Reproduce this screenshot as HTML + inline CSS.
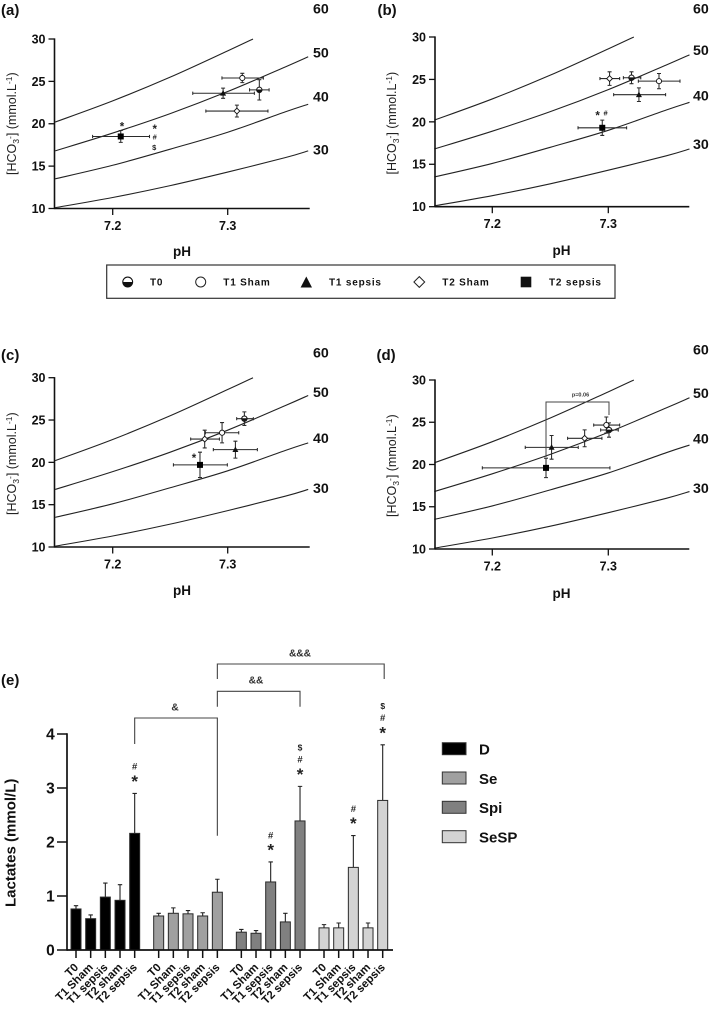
<!DOCTYPE html>
<html lang="en">
<head>
<meta charset="utf-8">
<title>Acid-base and lactate panels</title>
<style>
html,body{margin:0;padding:0;background:#fff;}
#figure{display:block;width:709px;height:1012px;font-family:"Liberation Sans",Arial,sans-serif;fill:#111;filter:blur(0.3px);}
.b{font-weight:bold;}
.panel-label{font-size:15px;font-weight:bold;}
.iso{font-size:14.2px;font-weight:bold;}
.ytitle{font-size:12.5px;fill:#222;}
.ph{font-size:13.5px;font-weight:bold;text-anchor:middle;}
.leg{font-size:10px;font-weight:bold;letter-spacing:.8px;}
.leg2{font-size:15px;font-weight:bold;}
</style>
</head>
<body>
<svg id="figure" xmlns="http://www.w3.org/2000/svg" width="709" height="1012" viewBox="0 0 709 1012">
  <rect x="0" y="0" width="709" height="1012" fill="#fff"/>

  <text class="panel-label" x="1" y="15">(a)</text>
  <text class="panel-label" x="377.5" y="15">(b)</text>
  <text class="panel-label" x="1" y="360">(c)</text>
  <text class="panel-label" x="376.5" y="360">(d)</text>
  <text class="panel-label" x="1" y="685">(e)</text>

  <g>
    <text class="iso" x="313" y="13.5">60</text><text class="iso" x="313" y="57.5">50</text><text class="iso" x="313" y="101.5">40</text><text class="iso" x="313" y="154.5">30</text>
  </g>
  <g>
    <text class="iso" x="693" y="13.5">60</text><text class="iso" x="693" y="55">50</text><text class="iso" x="693" y="100.5">40</text><text class="iso" x="693" y="149">30</text>
  </g>
  <g>
    <text class="iso" x="313" y="357.5">60</text><text class="iso" x="313" y="397">50</text><text class="iso" x="313" y="443">40</text><text class="iso" x="313" y="493">30</text>
  </g>
  <g>
    <text class="iso" x="693" y="354.5">60</text><text class="iso" x="693" y="398">50</text><text class="iso" x="693" y="443.5">40</text><text class="iso" x="693" y="493">30</text>
  </g>

  <text class="ph" x="182" y="256">pH</text>
  <text class="ph" x="561.5" y="255">pH</text>
  <text class="ph" x="182" y="595">pH</text>
  <text class="ph" x="561.5" y="598">pH</text>

  <text class="ytitle" transform="translate(16,175) rotate(-90)">[HCO<tspan font-size="8.5" dy="3">3</tspan><tspan font-size="8.5" dy="-6">-</tspan><tspan dy="3">] (mmol.L</tspan><tspan font-size="8.5" dy="-4">-1</tspan><tspan dy="4">)</tspan></text>
  <text class="ytitle" transform="translate(396,174.5) rotate(-90)">[HCO<tspan font-size="8.5" dy="3">3</tspan><tspan font-size="8.5" dy="-6">-</tspan><tspan dy="3">] (mmol.L</tspan><tspan font-size="8.5" dy="-4">-1</tspan><tspan dy="4">)</tspan></text>
  <text class="ytitle" transform="translate(16,515) rotate(-90)">[HCO<tspan font-size="8.5" dy="3">3</tspan><tspan font-size="8.5" dy="-6">-</tspan><tspan dy="3">] (mmol.L</tspan><tspan font-size="8.5" dy="-4">-1</tspan><tspan dy="4">)</tspan></text>
  <text class="ytitle" transform="translate(396,517) rotate(-90)">[HCO<tspan font-size="8.5" dy="3">3</tspan><tspan font-size="8.5" dy="-6">-</tspan><tspan dy="3">] (mmol.L</tspan><tspan font-size="8.5" dy="-4">-1</tspan><tspan dy="4">)</tspan></text>

  <g>
    <rect x="106.7" y="265" width="508.3" height="33.3" fill="#fff" stroke="#333" stroke-width="1.2"/>
    <g>
      <circle cx="127.7" cy="282" r="4.9" fill="#fff" stroke="#111" stroke-width="1.1"/>
      <path d="M122.8 282 A4.9 4.9 0 0 0 132.6 282 Z" fill="#111"/>
      <text class="leg" x="150" y="285.7">T0</text>
    </g>
    <g>
      <circle cx="200.7" cy="282" r="5" fill="#fff" stroke="#222" stroke-width="1"/>
      <text class="leg" x="223.3" y="285.7">T1 Sham</text>
    </g>
    <g>
      <path d="M306.3 276.5 L312 287.5 L300.6 287.5 Z" fill="#111"/>
      <text class="leg" x="329" y="285.7">T1 sepsis</text>
    </g>
    <g>
      <path d="M419.3 276.6 L424.7 282 L419.3 287.4 L413.9 282 Z" fill="#fff" stroke="#222" stroke-width="1"/>
      <text class="leg" x="442.3" y="285.7">T2 Sham</text>
    </g>
    <g>
      <rect x="520.7" y="276.7" width="10.6" height="10.6" fill="#111"/>
      <text class="leg" x="549" y="285.7">T2 sepsis</text>
    </g>
  </g>

  <text class="b" font-size="15" transform="translate(15.5,907) rotate(-90)">Lactates (mmol/L)</text>

  <g>
    <g>
      <rect x="442.3" y="742.7" width="23.7" height="12" fill="#000" stroke="#333" stroke-width="1"/>
      <text class="leg2" x="479" y="754.5">D</text>
    </g>
    <g>
      <rect x="442.3" y="772" width="23.7" height="12" fill="#a0a0a0" stroke="#333" stroke-width="1"/>
      <text class="leg2" x="479" y="784">Se</text>
    </g>
    <g>
      <rect x="442.3" y="801.3" width="23.7" height="12" fill="#808080" stroke="#333" stroke-width="1"/>
      <text class="leg2" x="479" y="813">Spi</text>
    </g>
    <g>
      <rect x="442.3" y="830.7" width="23.7" height="12" fill="#d3d3d3" stroke="#333" stroke-width="1"/>
      <text class="leg2" x="479" y="842.5">SeSP</text>
    </g>
  </g>
</svg>

<script>
// ---------- Davenport panels: axis values ----------
const pHTicks = [7.2, 7.3];
const hco3Ticks = [10, 15, 20, 25, 30];

// isobars
const isobarPH = [7.15, 7.20, 7.25, 7.30, 7.35, 7.37];
const isobar60PH = [7.15, 7.20, 7.25, 7.30, 7.322];
const isobar60 = [20.2, 22.7, 25.5, 28.6, 30.0];
const isobar50 = [16.8, 18.9, 21.2, 23.8, 26.7, 27.9];
const isobar40 = [13.5, 15.1, 17.0, 19.0, 21.4, 22.3];
const isobar30 = [10.1, 11.3, 12.7, 14.3, 16.0, 16.8];

// order: T0, T1 Sham, T1 sepsis, T2 Sham, T2 sepsis
const panelAPH = [7.3275, 7.3127, 7.296, 7.308, 7.207];
const panelAPHLow = [7.319, 7.295, 7.2696, 7.281, 7.1825];
const panelAPHHigh = [7.336, 7.331, 7.3232, 7.335, 7.232];
const panelAHCO3 = [24.0, 25.4, 23.6, 21.5, 18.5];
const panelAHCO3Err = [1.2, 0.55, 0.6, 0.7, 0.7];

const panelBPH = [7.32, 7.3437, 7.3264, 7.3011, 7.2948];
const panelBPHLow = [7.313, 7.3259, 7.3046, 7.2928, 7.2739];
const panelBPHHigh = [7.328, 7.3618, 7.3494, 7.3098, 7.3158];
const panelBHCO3 = [25.2, 24.8, 23.2, 25.1, 19.3];
const panelBHCO3Err = [0.7, 0.9, 0.8, 0.8, 0.9];

const panelCPH = [7.3145, 7.2951, 7.3067, 7.28, 7.2759];
const panelCPHLow = [7.3078, 7.2806, 7.2875, 7.2678, 7.2528];
const panelCPHHigh = [7.3223, 7.3096, 7.3258, 7.2928, 7.2997];
const panelCHCO3 = [25.16, 23.5, 21.5, 22.75, 19.7];
const panelCHCO3Err = [0.8, 1.2, 1.0, 1.05, 1.5];

const panelDPH = [7.3006, 7.2983, 7.2511, 7.2796, 7.2463];
const panelDPHLow = [7.2934, 7.2874, 7.2284, 7.2649, 7.1914];
const panelDPHHigh = [7.3086, 7.3098, 7.2741, 7.2945, 7.3014];
const panelDHCO3 = [24.08, 24.67, 22.03, 23.1, 19.6];
const panelDHCO3Err = [0.85, 0.95, 1.4, 1.0, 1.15];

// ---------- Lactate bars ----------
const barTickValues = [0, 1, 2, 3, 4];
const timepointLabels = ['T0', 'T1 Sham', 'T1 sepsis', 'T2 sham', 'T2 sepsis'];
const groupNames = ['D', 'Se', 'Spi', 'SeSP'];
const groupD = [0.76, 0.58, 0.98, 0.92, 2.16];
const groupDTop = [0.82, 0.65, 1.24, 1.21, 2.90];
const groupSe = [0.63, 0.68, 0.67, 0.63, 1.07];
const groupSeTop = [0.68, 0.78, 0.73, 0.69, 1.31];
const groupSpi = [0.33, 0.31, 1.26, 0.52, 2.39];
const groupSpiTop = [0.38, 0.36, 1.63, 0.68, 3.03];
const groupSeSP = [0.41, 0.41, 1.53, 0.41, 2.77];
const groupSeSPTop = [0.47, 0.50, 2.12, 0.50, 3.80];
const groupDMarks = ['', '', '', '', '*#'];
const groupSeMarks = ['', '', '', '', ''];
const groupSpiMarks = ['', '', '*#', '', '*#$'];
const groupSeSPMarks = ['', '', '*#', '', '*#$'];

// ---------- Helpers ----------
const NS = 'http://www.w3.org/2000/svg';
const svg = document.getElementById('figure');
const INK = '#111';
const LINE = '#222';

function mk(tag, attrs, parent, txt) {
  const e = document.createElementNS(NS, tag);
  for (const k in attrs) e.setAttribute(k, attrs[k]);
  if (txt !== undefined) e.textContent = txt;
  parent.appendChild(e);
  return e;
}

function symbolText(sym, cx, cy, size, parent) {
  const rise = sym === '*' ? 0.56 : 0.35;
  const t = mk('text', {x: cx, y: cy + rise * size, 'font-size': size, 'font-weight': 'bold', 'text-anchor': 'middle', fill: '#222'}, parent, sym);
  
  
  return t;
}

function smoothPath(pts) {
  let d = 'M' + pts[0][0] + ' ' + pts[0][1];
  for (let i = 0; i < pts.length - 1; i++) {
    const p0 = pts[Math.max(i - 1, 0)], p1 = pts[i], p2 = pts[i + 1], p3 = pts[Math.min(i + 2, pts.length - 1)];
    d += ' C' + (p1[0] + (p2[0] - p0[0]) / 6) + ' ' + (p1[1] + (p2[1] - p0[1]) / 6) + ' ' +
         (p2[0] - (p3[0] - p1[0]) / 6) + ' ' + (p2[1] - (p3[1] - p1[1]) / 6) + ' ' + p2[0] + ' ' + p2[1];
  }
  return d;
}

function drawMarker(kind, x, y, parent) {
  if (kind === 0) {
    const c = mk('circle', {cx: x, cy: y, r: 2.7, fill: '#fff', stroke: INK, 'stroke-width': 1}, parent);
    
    
    const h = mk('path', {d: 'M' + (x - 2.7) + ' ' + (y - 0.4) + ' A2.7 2.7 0 0 0 ' + (x + 2.7) + ' ' + (y - 0.4) + ' Z', fill: INK}, parent);
    
    
  } else if (kind === 1) {
    const c = mk('circle', {cx: x, cy: y, r: 2.6, fill: '#fff', stroke: INK, 'stroke-width': 0.9}, parent);
    
    
  } else if (kind === 2) {
    const t = mk('path', {d: 'M' + x + ' ' + (y - 3.2) + ' L' + (x + 3) + ' ' + (y + 2.4) + ' L' + (x - 3) + ' ' + (y + 2.4) + ' Z', fill: INK}, parent);
    
    
  } else if (kind === 3) {
    const t = mk('path', {d: 'M' + x + ' ' + (y - 2.9) + ' L' + (x + 2.9) + ' ' + y + ' L' + x + ' ' + (y + 2.9) + ' L' + (x - 2.9) + ' ' + y + ' Z', fill: '#fff', stroke: INK, 'stroke-width': 0.9}, parent);
    
    
  } else {
    const r = mk('rect', {x: x - 3, y: y - 3, width: 6, height: 6, fill: '#000'}, parent);
    
    
  }
}

function drawPanel(name, box, pH, pHLow, pHHigh, hco3, hco3Err) {
  const xScale = v => box.x72 + (v - 7.2) * (box.x73 - box.x72) / 0.1;
  const yScale = v => box.bottom - (v - 10) * (box.bottom - box.top) / 20;
  const g = mk('g', {}, svg);
  
  

  const curves = [[isobar60PH, isobar60], [isobarPH, isobar50], [isobarPH, isobar40], [isobarPH, isobar30]];
  curves.forEach(pair => {
    const pts = pair[0].map((p, i) => [xScale(p), yScale(pair[1][i])]);
    const c = mk('path', {d: smoothPath(pts), fill: 'none', stroke: LINE, 'stroke-width': 1.1}, g);
    
    
  });

  const yAxis = mk('line', {x1: box.left, x2: box.left, y1: box.top - 0.6, y2: box.bottom + 0.6, stroke: INK, 'stroke-width': 1.6}, g);
  
  
  const xAxis = mk('line', {x1: box.left, x2: box.right, y1: box.bottom, y2: box.bottom, stroke: INK, 'stroke-width': 1.6}, g);
  
  

  hco3Ticks.forEach(v => {
    const tick = mk('line', {x1: box.left - 6, x2: box.left, y1: yScale(v), y2: yScale(v), stroke: INK, 'stroke-width': 1.3}, g);
    
    
    const lab = mk('text', {x: box.left - 9, y: yScale(v) + 4.4, 'font-size': 12.5, 'font-weight': 'bold', 'text-anchor': 'end'}, g, String(v));
    
    
  });
  pHTicks.forEach(v => {
    const tick = mk('line', {x1: xScale(v), x2: xScale(v), y1: box.bottom, y2: box.bottom + 6.5, stroke: INK, 'stroke-width': 1.3}, g);
    
    
    const lab = mk('text', {x: xScale(v), y: box.bottom + 21.5, 'font-size': 12.5, 'font-weight': 'bold', 'text-anchor': 'middle'}, g, v.toFixed(1));
    
    
  });

  pH.forEach((p, i) => {
    const x = xScale(p), y = yScale(hco3[i]);
    const yTop = yScale(hco3[i] + hco3Err[i]), yBot = yScale(hco3[i] - hco3Err[i]);
    const xl = xScale(pHLow[i]), xr = xScale(pHHigh[i]);
    const d = 'M' + xl + ' ' + y + ' H' + xr + ' M' + xl + ' ' + (y - 1.6) + ' V' + (y + 1.6) + ' M' + xr + ' ' + (y - 1.6) + ' V' + (y + 1.6) +
              ' M' + x + ' ' + yTop + ' V' + yBot + ' M' + (x - 2) + ' ' + yTop + ' H' + (x + 2) + ' M' + (x - 2) + ' ' + yBot + ' H' + (x + 2);
    const err = mk('path', {d: d, fill: 'none', stroke: '#2a2a2a', 'stroke-width': 1.05}, g);
    
    
    drawMarker(i, x, y, g);
  });

  return {g: g, xScale: xScale, yScale: yScale};
}

const panelA = drawPanel('a', {left: 54.5, right: 309.7, top: 39, bottom: 208.5, x72: 112.7, x73: 227.7}, panelAPH, panelAPHLow, panelAPHHigh, panelAHCO3, panelAHCO3Err);
const panelB = drawPanel('b', {left: 435, right: 689.3, top: 37, bottom: 206.7, x72: 492.3, x73: 608.3}, panelBPH, panelBPHLow, panelBPHHigh, panelBHCO3, panelBHCO3Err);
const panelC = drawPanel('c', {left: 54.5, right: 309.7, top: 377.7, bottom: 547, x72: 112.7, x73: 227.7}, panelCPH, panelCPHLow, panelCPHHigh, panelCHCO3, panelCHCO3Err);
const panelD = drawPanel('d', {left: 435, right: 689.3, top: 380, bottom: 549, x72: 492.3, x73: 608.3}, panelDPH, panelDPHLow, panelDPHHigh, panelDHCO3, panelDHCO3Err);

// annotations anchored on the T2 sepsis point of each panel
(function () {
  const ax = panelA.xScale(panelAPH[4]), ay = panelA.yScale(panelAHCO3[4]);
  symbolText('*', ax + 1.3, ay - 12.5, 11.5, panelA.g);
  symbolText('*', ax + 34, ay - 9.8, 11.5, panelA.g);
  symbolText('#', ax + 34, ay + 0.5, 7.5, panelA.g);
  symbolText('$', ax + 33.5, ay + 10.8, 7.5, panelA.g);
  const bx = panelB.xScale(panelBPH[4]), by = panelB.yScale(panelBHCO3[4]);
  symbolText('*', bx - 4.7, by - 14.7, 11.5, panelB.g);
  symbolText('#', bx + 3.3, by - 14.7, 7.5, panelB.g);
  const cx = panelC.xScale(panelCPH[4]), cy = panelC.yScale(panelCHCO3[4]);
  symbolText('*', cx - 6, cy - 9.5, 11.5, panelC.g);

  const x1 = panelD.xScale(panelDPH[4]), x2 = panelD.xScale(panelDPH[0]);
  const brk = mk('path', {d: 'M' + x1 + ' 457 V402 H' + x2 + ' V415', fill: 'none', stroke: '#444', 'stroke-width': 1}, panelD.g);
  
  
  const pv = mk('text', {x: (x1 + x2) / 2 + 3, y: 396.5, 'font-size': 5.5, 'font-weight': 'bold', 'text-anchor': 'middle', fill: '#333'}, panelD.g, 'p=0.06');
  
  
})();

// ---------- Bar chart ----------
const barY = v => 950 - v * 54;
const barX = (group, i) => 76 + group * 82.67 + i * 14.67;
const barWidth = 10;
const groupValues = [groupD, groupSe, groupSpi, groupSeSP];
const groupTops = [groupDTop, groupSeTop, groupSpiTop, groupSeSPTop];
const groupMarks = [groupDMarks, groupSeMarks, groupSpiMarks, groupSeSPMarks];
const groupFills = ['#000000', '#a0a0a0', '#808080', '#d3d3d3'];
const markRise = {'*': 16, '#': 27, '$': 39};
const markSize = {'*': 17, '#': 9.5, '$': 8.5};

const barChart = mk('g', {}, svg);



groupNames.forEach((name, g) => {
  groupValues[g].forEach((v, i) => {
    const x = barX(g, i);
    const err = mk('path', {d: 'M' + x + ' ' + barY(v) + ' V' + barY(groupTops[g][i]) + ' M' + (x - 2.2) + ' ' + barY(groupTops[g][i]) + ' H' + (x + 2.2), fill: 'none', stroke: '#222', 'stroke-width': 1.1}, barChart);
    
    
    const bar = mk('rect', {x: x - barWidth / 2, y: barY(v), width: barWidth, height: barY(0) - barY(v), fill: groupFills[g], stroke: '#2a2a2a', 'stroke-width': 1}, barChart);
    
    
    const tick = mk('line', {x1: x, x2: x, y1: 950, y2: 958, stroke: INK, 'stroke-width': 1.5}, barChart);
    
    
    const lab = mk('text', {transform: 'translate(' + (x + 3) + ',968) rotate(-45)', 'font-size': 11.4, 'font-weight': 'bold', 'text-anchor': 'end'}, barChart, timepointLabels[i]);
    
    
    Array.from(groupMarks[g][i]).forEach(sym => {
      symbolText(sym, x, barY(groupTops[g][i]) - markRise[sym], markSize[sym], barChart);
    });
  });
});

const barYAxis = mk('line', {x1: 67, x2: 67, y1: barY(4) - 0.8, y2: 950.8, stroke: INK, 'stroke-width': 1.7}, barChart);


const barXAxis = mk('line', {x1: 67, x2: 393, y1: 950, y2: 950, stroke: INK, 'stroke-width': 1.7}, barChart);



barTickValues.forEach(v => {
  const tick = mk('line', {x1: 57, x2: 67, y1: barY(v), y2: barY(v), stroke: INK, 'stroke-width': 1.5}, barChart);
  
  
  const lab = mk('text', {x: 54.7, y: barY(v) + 5.4, 'font-size': 15.5, 'font-weight': 'bold', 'text-anchor': 'end'}, barChart, String(v));
  
  
});

function drawBracket(xa, xb, yTop, dropA, dropB, label, labelX, labelY) {
  const b = mk('path', {d: 'M' + xa + ' ' + dropA + ' V' + yTop + ' H' + xb + ' V' + dropB, fill: 'none', stroke: '#444', 'stroke-width': 1.1}, barChart);
  
  
  const t = mk('text', {x: labelX, y: labelY, 'font-size': 10.2, 'font-weight': 'bold', 'text-anchor': 'middle', fill: '#333'}, barChart, label);
  
  
}
drawBracket(barX(0, 4), barX(1, 4), 718, 744, 835.7, '&', 175, 710.5);
drawBracket(barX(1, 4), barX(2, 4), 691.3, 706.7, 706.7, '&&', 256, 683.5);
drawBracket(barX(1, 4), barX(3, 4) + 1.5, 664, 679, 679, '&&&', 300, 656.3);
</script>
</body>
</html>
